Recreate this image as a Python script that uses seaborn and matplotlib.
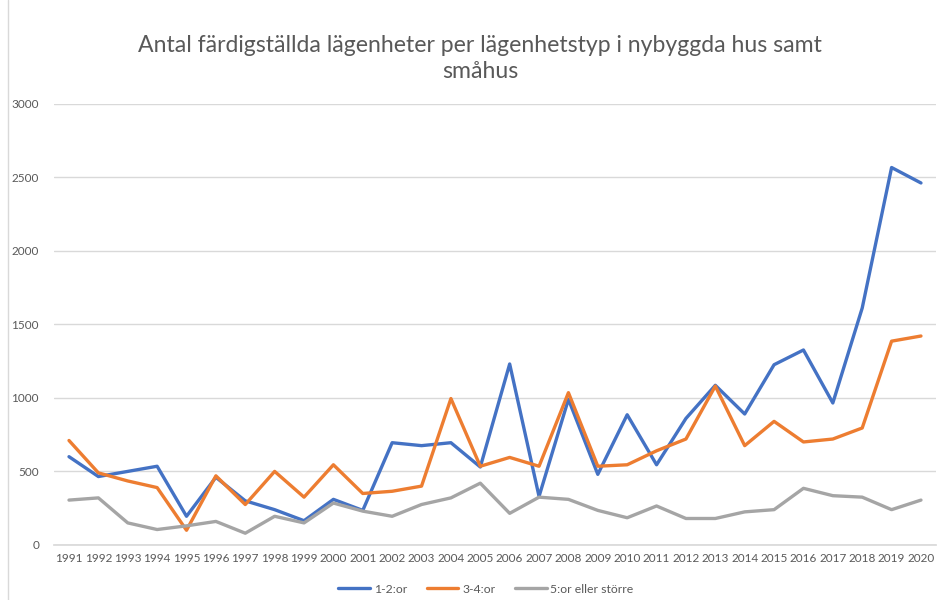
import pandas as pd
import seaborn as sns
import matplotlib.pyplot as plt
from matplotlib.lines import Line2D

# data

years = list(range(1991, 2021))

rum_1_2 = [600, 465, 500, 535, 195, 460, 300, 240, 165, 310,
           235, 695, 675, 695, 530, 1230, 330, 990, 480, 885,
           545, 860, 1085, 890, 1225, 1325, 965, 1610, 2565, 2460]

rum_3_4 = [710, 490, 435, 390, 100, 470, 275, 500, 325, 545,
           350, 365, 400, 995, 535, 595, 535, 1035, 535, 545,
           640, 720, 1080, 675, 840, 700, 720, 795, 1385, 1420]

rum_5 = [305, 320, 150, 105, 130, 160, 80, 195, 150, 285,
         230, 195, 275, 320, 420, 215, 325, 310, 235, 185,
         265, 180, 180, 225, 240, 385, 335, 325, 240, 305]

series_names = ['1-2:or', '3-4:or', '5:or eller större']
colors = ['#4472C4', '#ED7D31', '#A5A5A5']

df = pd.DataFrame({'år': years, series_names[0]: rum_1_2,
                   series_names[1]: rum_3_4, series_names[2]: rum_5})
long = df.melt(id_vars='år', var_name='typ', value_name='antal')

sns.set_theme(style='white')
plt.rcParams['font.family'] = ['Lato', 'DejaVu Sans']

fig = plt.figure(figsize=(9.38, 6), dpi=100)
ax = fig.add_axes([0.0579, 0.0917, 0.9396, 0.7358])

sns.lineplot(data=long, x='år', y='antal', hue='typ', palette=colors,
             linewidth=2.4, ax=ax, legend=False)

ax.set_xlim(1990.5, 2020.5)
ax.set_ylim(0, 3000)
ax.set_xticks(years)
ax.set_xticklabels([str(y) for y in years])
ax.set_yticks(range(0, 3001, 500))
ax.yaxis.grid(True, color='#D9D9D9', linewidth=1)
ax.set_axisbelow(True)
for s in ['top', 'right', 'left']:
    ax.spines[s].set_visible(False)
ax.spines['bottom'].set_color('#D9D9D9')
ax.tick_params(axis='both', length=0, labelsize=8.5, colors='#595959')
ax.tick_params(axis='x', pad=6)
ax.tick_params(axis='y', pad=11)
ax.set_xlabel('')
ax.set_ylabel('')

fig.text(0.512, 0.903, 'Antal färdigställda lägenheter per lägenhetstyp i nybyggda hus samt\nsmåhus',
         ha='center', va='center', fontsize=16.6, color='#595959', linespacing=1.3)

handles = [Line2D([], [], color=c, linewidth=2.4) for c in colors]
fig.legend(handles, series_names, loc='center', bbox_to_anchor=(0.518, 0.018),
           ncol=3, frameon=False, fontsize=8.8, labelcolor='#595959',
           handlelength=2.6, handletextpad=0.3, columnspacing=1.6)

# left frame edge of the original chart area
fig.add_artist(Line2D([0.009, 0.009], [0, 1], transform=fig.transFigure,
                      color='#D9D9D9', linewidth=1))

fig.savefig('out.png', dpi=100)
